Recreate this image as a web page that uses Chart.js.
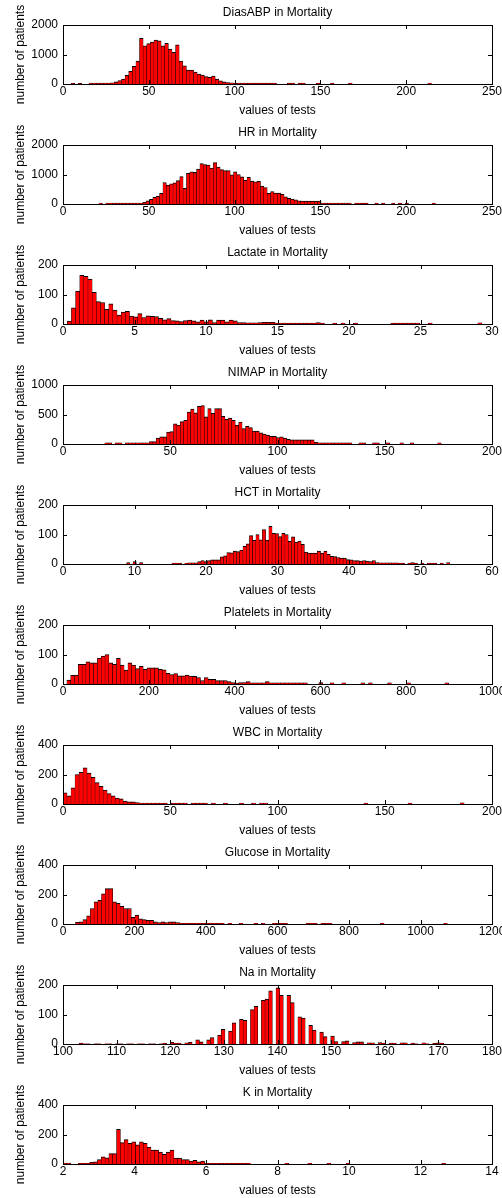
<!DOCTYPE html>
<html>
<head>
<meta charset="utf-8">
<script src="https://cdn.jsdelivr.net/npm/chart.js@4.4.0/dist/chart.umd.min.js"></script>
<style>
  body { margin: 0; background: #fff; }
  .panel { width: 502px; height: 120px; }
  canvas { display: block; }
</style>
</head>
<body>
<div id="charts"></div>
<script>
// Histogram counts (100 bins per test, first bin edge + bin width)
const diasBins = [4.7, 2.1];
const diasCounts = [
  20, 0, 20, 0, 0, 35, 35, 35, 35, 35,
  35, 40, 70, 120, 170, 290, 430, 600, 780, 1550,
  1290, 1370, 1420, 1490, 1460, 1290, 1380, 1180, 1070, 1330,
  780, 620, 470, 470, 400, 340, 300, 250, 230, 270,
  170, 110, 70, 50, 40, 30, 30, 30, 30, 30,
  30, 30, 30, 30, 30, 30, 30, 0, 0, 0,
  30, 30, 0, 30, 30, 0, 0, 0, 30, 0,
  0, 0, 30, 0, 0, 0, 0, 30, 0, 0,
  0, 0, 0, 0, 0, 0, 0, 0, 0, 0,
  0, 0, 0, 0, 0, 0, 0, 0, 0, 35
];

const hrBins = [21, 1.96];
const hrCounts = [
  35, 0, 35, 35, 35, 35, 35, 35, 35, 35,
  35, 35, 35, 60, 110, 160, 230, 270, 360, 730,
  640, 680, 720, 790, 930, 530, 1040, 1090, 1070, 1180,
  1370, 1340, 1320, 1220, 1400, 1250, 1170, 1130, 1130, 990,
  1090, 1000, 920, 800, 900, 780, 750, 770, 610, 560,
  360, 420, 370, 370, 330, 240, 190, 170, 140, 110,
  100, 100, 100, 100, 100, 100, 35, 35, 35, 35,
  35, 35, 35, 35, 35, 0, 30, 30, 30, 30,
  0, 0, 30, 0, 30, 0, 0, 30, 0, 30,
  0, 30, 0, 0, 0, 0, 0, 0, 0, 30
];

const lactateBins = [0.3, 0.29];
const lactateCounts = [
  10, 55, 112, 165, 162, 152, 107, 76, 73, 50,
  68, 47, 30, 40, 43, 27, 24, 35, 22, 28,
  26, 25, 19, 14, 18, 12, 11, 8, 12, 13,
  11, 7, 13, 7, 14, 5, 13, 13, 7, 13,
  11, 5, 5, 4, 4, 4, 5, 6, 6, 6,
  3, 3, 3, 3, 3, 3, 3, 3, 3, 3,
  5, 3, 0, 0, 3, 0, 3, 0, 0, 3,
  0, 0, 0, 0, 0, 0, 0, 0, 3, 3,
  3, 3, 3, 3, 3, 0, 0, 3, 0, 0,
  0, 0, 0, 0, 0, 0, 0, 0, 0, 4
];

const nimapBins = [19.5, 1.6];
const nimapCounts = [
  20, 20, 0, 20, 20, 0, 20, 20, 20, 20,
  20, 20, 20, 40, 40, 100, 120, 120, 200, 210,
  340, 320, 380, 400, 540, 590, 530, 640, 650, 460,
  600, 520, 600, 600, 470, 420, 440, 400, 320, 370,
  260, 300, 280, 220, 220, 190, 170, 150, 130, 130,
  110, 120, 100, 80, 70, 70, 70, 70, 70, 70,
  70, 30, 20, 20, 20, 20, 20, 20, 20, 20,
  20, 20, 0, 0, 20, 20, 0, 0, 20, 20,
  0, 0, 20, 0, 0, 0, 20, 0, 0, 20,
  0, 0, 0, 0, 0, 0, 0, 20, 0, 0
];

const hctBins = [8.9, 0.452];
const hctCounts = [
  5, 0, 8, 0, 5, 0, 0, 0, 0, 0,
  0, 0, 0, 0, 3, 3, 3, 0, 3, 4,
  4, 4, 8, 12, 8, 12, 14, 14, 14, 24,
  28, 39, 38, 44, 42, 47, 60, 68, 96, 80,
  100, 82, 117, 81, 128, 104, 103, 93, 104, 100,
  77, 92, 74, 78, 67, 40, 37, 37, 37, 44,
  37, 44, 33, 26, 25, 22, 20, 20, 15, 14,
  12, 12, 10, 12, 10, 8, 12, 5, 4, 4,
  4, 4, 4, 4, 3, 3, 0, 3, 5, 3,
  0, 3, 0, 3, 3, 3, 0, 3, 0, 5
];

const plateletBins = [9, 8.9];
const plateletCounts = [
  13, 29, 30, 67, 67, 75, 72, 72, 88, 95,
  100, 72, 67, 87, 64, 47, 72, 64, 52, 60,
  50, 55, 55, 55, 50, 48, 36, 32, 35, 28,
  28, 30, 27, 26, 22, 12, 22, 16, 16, 12,
  12, 12, 8, 5, 3, 5, 5, 8, 4, 4,
  4, 4, 8, 4, 4, 4, 4, 4, 4, 4,
  4, 4, 4, 0, 0, 0, 5, 0, 0, 4,
  0, 0, 4, 0, 0, 0, 0, 4, 0, 4,
  0, 0, 0, 0, 4, 0, 0, 0, 0, 4,
  0, 0, 0, 0, 0, 0, 0, 0, 0, 4
];

const wbcBins = [0, 1.87];
const wbcCounts = [
  75, 55, 110, 200, 215, 245, 210, 180, 145, 120,
  95, 70, 55, 40, 35, 20, 15, 15, 10, 7,
  7, 7, 7, 7, 7, 7, 0, 7, 7, 7,
  7, 0, 7, 7, 7, 7, 0, 7, 0, 0,
  7, 0, 0, 0, 7, 0, 0, 7, 0, 7,
  7, 0, 0, 0, 0, 0, 0, 0, 0, 0,
  0, 0, 0, 0, 0, 0, 0, 0, 0, 0,
  0, 0, 0, 0, 0, 7, 0, 0, 0, 0,
  0, 0, 0, 0, 0, 0, 7, 0, 0, 0,
  0, 0, 0, 0, 0, 0, 0, 0, 0, 8
];

const glucoseBins = [35, 10.4];
const glucoseCounts = [
  12, 15, 30, 55, 105, 150, 160, 205, 240, 240,
  150, 140, 120, 105, 105, 45, 60, 35, 30, 25,
  25, 15, 10, 15, 10, 15, 15, 10, 5, 5,
  5, 5, 5, 5, 5, 5, 5, 5, 5, 5,
  0, 5, 0, 0, 5, 0, 0, 0, 5, 0,
  5, 0, 0, 5, 5, 5, 5, 0, 0, 0,
  0, 0, 5, 5, 5, 0, 5, 5, 5, 0,
  0, 0, 0, 0, 0, 0, 0, 0, 0, 0,
  0, 0, 5, 0, 0, 0, 0, 0, 0, 0,
  0, 0, 0, 0, 0, 0, 0, 0, 0, 5
];

const naBins = [103, 0.68];
const naCounts = [
  3, 1, 1, 0, 1, 1, 0, 1, 1, 0,
  1, 1, 0, 1, 1, 0, 1, 1, 0, 1,
  1, 0, 1, 3, 0, 6, 3, 3, 0, 4,
  6, 0, 14, 7, 0, 14, 22, 0, 30, 50,
  0, 44, 72, 0, 84, 80, 0, 117, 128, 0,
  148, 152, 180, 0, 190, 165, 0, 165, 140, 0,
  92, 88, 0, 63, 47, 0, 40, 25, 0, 27,
  8, 0, 8, 11, 0, 5, 7, 7, 0, 4,
  4, 0, 5, 3, 0, 3, 3, 0, 4, 4,
  0, 3, 1, 0, 4, 1, 0, 2, 4, 3
];

const kBins = [2.0, 0.107];
const kCounts = [
  7, 7, 0, 0, 5, 5, 5, 12, 15, 30,
  48, 42, 70, 70, 235, 145, 165, 140, 150, 130,
  150, 140, 115, 95, 95, 80, 65, 80, 95, 40,
  40, 30, 30, 20, 25, 15, 20, 5, 5, 5,
  5, 5, 5, 5, 5, 5, 5, 5, 5, 0,
  0, 0, 0, 0, 0, 0, 0, 0, 5, 0,
  0, 0, 0, 0, 5, 0, 0, 0, 0, 5,
  0, 0, 0, 0, 5, 0, 0, 0, 0, 0,
  0, 0, 0, 0, 0, 0, 0, 0, 0, 0,
  0, 0, 0, 0, 0, 0, 0, 0, 0, 5
];

// axis ranges: [min, max, step]
const panels = [
  { title: 'DiasABP in Mortality', bins: diasBins, counts: diasCounts, x: [0, 250, 50], y: [0, 2000, 1000] },
  { title: 'HR in Mortality', bins: hrBins, counts: hrCounts, x: [0, 250, 50], y: [0, 2000, 1000] },
  { title: 'Lactate in Mortality', bins: lactateBins, counts: lactateCounts, x: [0, 30, 5], y: [0, 200, 100] },
  { title: 'NIMAP in Mortality', bins: nimapBins, counts: nimapCounts, x: [0, 200, 50], y: [0, 1000, 500] },
  { title: 'HCT in Mortality', bins: hctBins, counts: hctCounts, x: [0, 60, 10], y: [0, 200, 100] },
  { title: 'Platelets in Mortality', bins: plateletBins, counts: plateletCounts, x: [0, 1000, 200], y: [0, 200, 100] },
  { title: 'WBC in Mortality', bins: wbcBins, counts: wbcCounts, x: [0, 200, 50], y: [0, 400, 200] },
  { title: 'Glucose in Mortality', bins: glucoseBins, counts: glucoseCounts, x: [0, 1200, 200], y: [0, 400, 200] },
  { title: 'Na in Mortality', bins: naBins, counts: naCounts, x: [100, 180, 10], y: [0, 200, 100] },
  { title: 'K in Mortality', bins: kBins, counts: kCounts, x: [2, 14, 2], y: [0, 400, 200] }
];

Chart.defaults.font.family = "'Liberation Sans', Arial, Helvetica, sans-serif";
Chart.defaults.font.size = 12;
Chart.defaults.color = '#000';

// matlab style box with inward ticks on all four sides
const boxTicks = {
  id: 'boxTicks',
  afterDatasetsDraw(chart) {
    const { ctx, chartArea: a, scales: { x, y } } = chart;
    const len = 4;
    ctx.save();
    ctx.strokeStyle = '#000';
    ctx.lineWidth = 1;
    ctx.beginPath();
    x.ticks.forEach(t => {
      const px = Math.round(x.getPixelForValue(t.value)) + 0.5;
      ctx.moveTo(px, a.bottom); ctx.lineTo(px, a.bottom - len);
      ctx.moveTo(px, a.top); ctx.lineTo(px, a.top + len);
    });
    y.ticks.forEach(t => {
      const py = Math.round(y.getPixelForValue(t.value)) + 0.5;
      ctx.moveTo(a.left, py); ctx.lineTo(a.left + len, py);
      ctx.moveTo(a.right, py); ctx.lineTo(a.right - len, py);
    });
    ctx.stroke();
    ctx.strokeRect(a.left + 0.5, a.top + 0.5, a.right - a.left, a.bottom - a.top);
    ctx.restore();
  }
};

const plain = v => String(v);

panels.forEach(p => {
  const wrap = document.createElement('div');
  wrap.className = 'panel';
  const canvas = document.createElement('canvas');
  canvas.width = 502;
  canvas.height = 120;
  wrap.appendChild(canvas);
  document.getElementById('charts').appendChild(wrap);

  const [start, width] = p.bins;
  const points = p.counts.map((c, k) => ({ x: start + width * (k + 0.5), y: c }));

  new Chart(canvas, {
    type: 'bar',
    data: {
      datasets: [{
        data: points,
        backgroundColor: '#ff0000',
        borderColor: '#000',
        // half-width side edges so neighbouring bars share one dark line
        borderWidth: { top: 1, left: 0.5, right: 0.5, bottom: 0 },
        barPercentage: 1,
        categoryPercentage: 1
      }]
    },
    options: {
      responsive: false,
      animation: false,
      devicePixelRatio: 1,
      layout: { padding: { left: 0, right: 10, top: 0, bottom: 0 } },
      plugins: {
        legend: { display: false },
        tooltip: { enabled: false },
        title: {
          display: true,
          text: p.title,
          fullSize: false,
          color: '#000',
          font: { size: 12, weight: 'normal' },
          padding: { top: 5.8, bottom: 4.8 }
        }
      },
      scales: {
        x: {
          type: 'linear',
          offset: false,
          min: p.x[0],
          max: p.x[1],
          grid: { display: false, drawTicks: false },
          border: { display: false },
          ticks: { stepSize: p.x[2], maxRotation: 0, autoSkip: false, padding: 0, callback: plain },
          title: { display: true, text: 'values of tests', padding: { top: 0, bottom: 2.5 } },
          afterFit: s => { s.height = 36; s.paddingLeft = 0; s.paddingRight = 0; }
        },
        y: {
          min: p.y[0],
          max: p.y[1],
          grid: { display: false, drawTicks: false },
          border: { display: false },
          ticks: { stepSize: p.y[2], padding: 5, callback: plain },
          title: { display: true, text: 'number of patients', padding: { top: 13.6, bottom: 0 } },
          afterFit: s => { s.width = 63; s.paddingTop = 0; s.paddingBottom = 0; }
        }
      }
    },
    plugins: [boxTicks]
  });
});
</script>
</body>
</html>
